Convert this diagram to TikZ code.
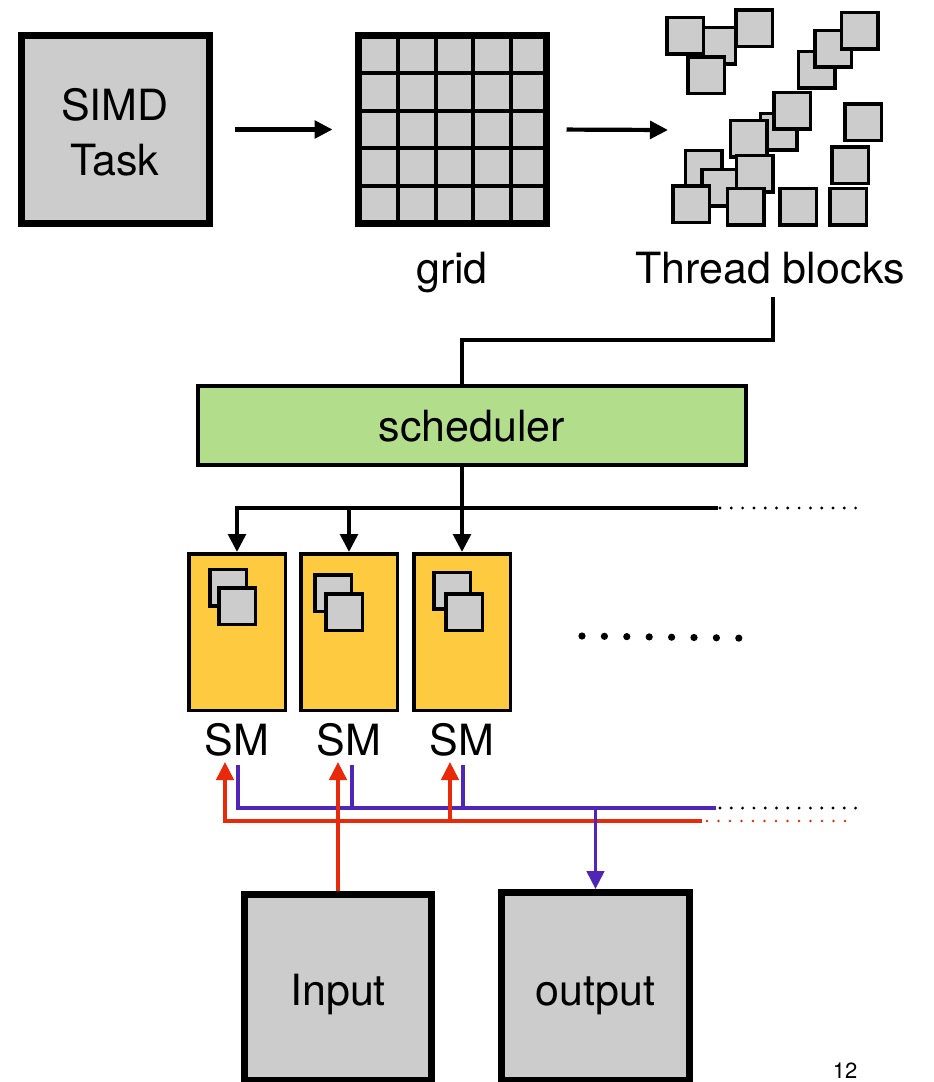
\documentclass[tikz,border=0pt]{standalone}
\usepackage{fontspec}
\setmainfont{TeX Gyre Heros}
\usetikzlibrary{arrows.meta}
\definecolor{boxgray}{RGB}{204,204,204}
\definecolor{smyellow}{RGB}{253,202,64}
\definecolor{schedgreen}{RGB}{178,222,140}
\definecolor{wirered}{RGB}{232,42,10}
\definecolor{wirepurple}{RGB}{80,38,185}

\begin{document}
\begin{tikzpicture}[x=1pt,y=-1pt,
  bigbox/.style={draw=black, fill=boxgray, line width=7pt, minimum width=188pt, minimum height=188pt, inner sep=0pt},
  tblock/.style={draw=black, fill=boxgray, line width=3.5pt, minimum size=36.5pt, inner sep=0pt},
  smbox/.style={draw=black, fill=smyellow, line width=3.5pt, minimum width=96.5pt, minimum height=156.5pt, inner sep=0pt},
  schedbox/.style={draw=black, fill=schedgreen, line width=4pt, minimum width=548pt, minimum height=79pt, inner sep=0pt},
  lbl/.style={inner sep=0pt, font=\fontsize{43}{55}\selectfont},
  conn/.style={line width=4.2pt, draw=black},
  rwire/.style={line width=3.2pt, draw=wirered},
  pwire/.style={line width=3.2pt, draw=wirepurple},
  arr/.style={-{Triangle[length=18pt,width=17.5pt]}},
  dotrow/.style={line cap=round, dash pattern=on 0pt off #1},
]
\useasboundingbox (0,0) rectangle (934,1082);

% --- top row: task -> grid -> thread blocks
\node[bigbox] (simd) at (115,129.5) {};
\node[lbl, align=center] (simdlbl) at (115,132) {SIMD\\Task};

\node[bigbox] (grid) at (452.5,129.5) {};
\foreach \i in {1,...,4} {
  \draw[line width=4pt] (360.5+\i*37.6,36) -- (360.5+\i*37.6,223);
  \draw[line width=4pt] (359,35.5+\i*37.5) -- (546,35.5+\i*37.5);
}
\node[lbl, anchor=base] (gridlbl) at (452,283) {grid};

\foreach \n/\x/\y in {2/717/45.5, 1/685/35.5, 3/754/28, 4/706/75,
    5/816.5/69.5, 6/833/48.5, 7/859.5/30.5,
    9/778.5/131.5, 8/792/110.5, 10/748.5/138.5, 11/863/122,
    13/703.5/168.5, 14/720/187.5, 15/754.5/173.5, 16/691/204,
    17/745.5/206.5, 18/798/206.5, 12/850/165, 19/848/206.5}
  \node[tblock] (tb\n) at (\x,\y) {};
\node[lbl, anchor=base] (tblbl) at (770,283) {Thread blocks};

\coordinate (tbin) at (668,130);
\draw[conn, arr, shorten <=22pt, shorten >=22.5pt] (simd) -- (grid);
\draw[conn, arr, shorten <=16.5pt] (grid.east) -- (tbin);

% --- scheduler
\node[schedbox] (sched) at (472,425.5) {};
\node[lbl, anchor=base] (schedlbl) at (472,441) {scheduler};

% --- streaming multiprocessors
\node[smbox] (sm1) at (237,632) {};
\node[smbox] (sm2) at (349,632) {};
\node[smbox] (sm3) at (462,632) {};
\node[tblock] (sm1a) at (228,587.5) {};
\node[tblock] (sm1b) at (237,606) {};
\node[tblock] (sm2a) at (333,593) {};
\node[tblock] (sm2b) at (344,612) {};
\node[tblock] (sm3a) at (452,590.5) {};
\node[tblock] (sm3b) at (464,612) {};
\node[lbl, anchor=base] (sml1) at (237,755) {SM};
\node[lbl, anchor=base] (sml2) at (349,755) {SM};
\node[lbl, anchor=base] (sml3) at (462,755) {SM};

\foreach \i in {0,...,7}
  \fill (582+\i*22.4,636+\i*0.3) circle[radius=3.6pt];

% thread blocks -> scheduler -> SMs
\coordinate (tbout) at (773,297);
\draw[conn] (tbout) -- ++(0,43) -| (sm3.north |- sched.north);
\draw[conn, arr] (sm3.north |- sched.south) -- (sm3.north);
\coordinate (busend) at (718,508);
\draw[conn, arr] (busend) -| (sm1.north);
\draw[conn, arr] (sm2.north |- busend) -- (sm2.north);
\draw[line width=3.2pt, dotrow=11.3pt] (720,508) -- (856,508);

% --- memory
\node[bigbox, minimum height=186pt, minimum width=187pt] (input) at (338,987.5) {};
\node[bigbox] (output) at (595.5,986.5) {};
\node[lbl, anchor=base] (inputlbl) at (338,1005) {Input};
\node[lbl, anchor=base] (outputlbl) at (595.5,1005) {output};

% results bus (purple)
\coordinate (p1) at (238,765);
\coordinate (p2) at (352,765);
\coordinate (p3) at (463,765);
\coordinate (pbus) at (716,808);
\draw[pwire] (pbus) -| (p1);
\draw[pwire] (p2 |- pbus) -- (p2);
\draw[pwire] (p3 |- pbus) -- (p3);
\draw[line width=3.2pt, dotrow=11.3pt] (720,808) -- (856,808);

% input bus (red)
\coordinate (r1) at (225,762);
\coordinate (r3) at (450,762);
\coordinate (rbus) at (702,821);
\draw[rwire, arr] (rbus) -| (r1);
\draw[rwire, arr] (r3 |- rbus) -- (r3);
\draw[rwire, arr] (input.north) -- (input.north |- r1);
\draw[line width=2.8pt, draw=wirered, dotrow=11.5pt] (707,821) -- (846,821);

\draw[pwire, arr] (output.north |- pbus) -- (output.north);

\node[inner sep=0pt, anchor=base, font=\fontsize{22}{26}\selectfont] (pagenum) at (845,1078) {12};
\end{tikzpicture}
\end{document}
